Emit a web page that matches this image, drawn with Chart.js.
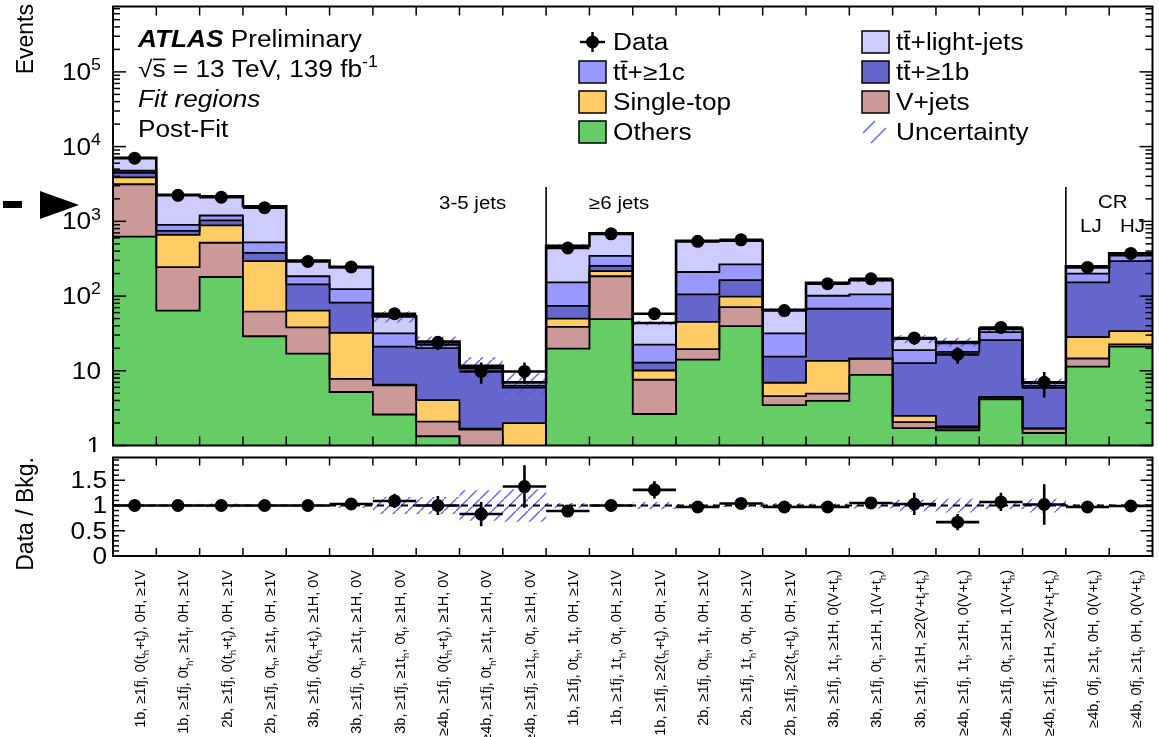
<!DOCTYPE html>
<html>
<head>
<meta charset="utf-8">
<title>Fit regions - post-fit</title>
<script src="https://cdn.jsdelivr.net/npm/chart.js@4.4.1/dist/chart.umd.min.js"></script>
<style>
    html, body { margin: 0; padding: 0; background: #fff; }
    #wrap { position: relative; width: 1159px; height: 737px; overflow: hidden; }
    #mainCanvas { position: absolute; left: 0; top: 0; }
    #ratioCanvas { position: absolute; left: 0; top: 451px; }
</style>
</head>
<body>
<div id="wrap">
    <canvas id="mainCanvas" width="1159" height="452"></canvas>
    <canvas id="ratioCanvas" width="1159" height="286"></canvas>
</div>
<script>
// Regiones del ajuste (24 bins); "_h" / "_l" marcan subíndices
const REGIONS = [
    '1b, ≥1fj, 0(t_h+t_l), 0H, ≥1V',
    '1b, ≥1fj, 0t_h, ≥1t_l, 0H, ≥1V',
    '2b, ≥1fj, 0(t_h+t_l), 0H, ≥1V',
    '2b, ≥1fj, 0t_h, ≥1t_l, 0H, ≥1V',
    '3b, ≥1fj, 0(t_h+t_l), ≥1H, 0V',
    '3b, ≥1fj, 0t_h, ≥1t_l, ≥1H, 0V',
    '3b, ≥1fj, ≥1t_h, 0t_l, ≥1H, 0V',
    '≥4b, ≥1fj, 0(t_h+t_l), ≥1H, 0V',
    '≥4b, ≥1fj, 0t_h, ≥1t_l, ≥1H, 0V',
    '≥4b, ≥1fj, ≥1t_h, 0t_l, ≥1H, 0V',
    '1b, ≥1fj, 0t_h, 1t_l, 0H, ≥1V',
    '1b, ≥1fj, 1t_h, 0t_l, 0H, ≥1V',
    '1b, ≥1fj, ≥2(t_h+t_l), 0H, ≥1V',
    '2b, ≥1fj, 0t_h, 1t_l, 0H, ≥1V',
    '2b, ≥1fj, 1t_h, 0t_l, 0H, ≥1V',
    '2b, ≥1fj, ≥2(t_h+t_l), 0H, ≥1V',
    '3b, ≥1fj, 1t_l, ≥1H, 0(V+t_h)',
    '3b, ≥1fj, 0t_l, ≥1H, 1(V+t_h)',
    '3b, ≥1fj, ≥1H, ≥2(V+t_l+t_h)',
    '≥4b, ≥1fj, 1t_l, ≥1H, 0(V+t_h)',
    '≥4b, ≥1fj, 0t_l, ≥1H, 1(V+t_h)',
    '≥4b, ≥1fj, ≥1H, ≥2(V+t_l+t_h)',
    '≥4b, 0fj, ≥1t_l, 0H, 0(V+t_h)',
    '≥4b, 0fj, ≥1t_l, 0H, 0(V+t_h)'
];

// Procesos apilados (de abajo hacia arriba), eventos por bin
const OTHERS    = [626, 64, 180, 29, 17, 5.2, 2.6, 1.33, 0.8, 0.5, 19.8, 49, 2.64, 14.1, 39.5, 3.47, 3.96, 8.8, 1.71, 1.6, 4.13, 1.47, 11.4, 21];
const VJETS     = [2507, 180, 337, 33, 21, 2.6, 3.8, 0.76, 0.83, 0.3, 18.8, 135, 4.95, 5.4, 31.5, 1.1, 1.0, 5.6, 0.34, 0.12, 0.22, 0.21, 3.2, 1.6];
const SINGLETOP = [742, 416, 366, 231, 26, 24.4, 0.1, 1.95, 0.05, 1.19, 11.3, 32, 2.5, 25.5, 27, 2.35, 8.64, 0.2, 0.44, 0.08, 0.12, 0.02, 13.7, 11.3];
const TT_B      = [595, 85, 145, 85, 79, 49.6, 14.5, 16, 9.1, 3.96, 24.1, 38, 2.8, 60, 65, 8.5, 54, 53, 10.2, 16.1, 21.3, 4.2, 123.7, 259];
const TT_C      = [280, 149, 169, 144, 41, 42, 10.6, 2.2, 0.3, 0.35, 78, 90, 9.5, 105, 102, 16.2, 33.4, 37.4, 6.2, 5.4, 7.1, 0.4, 47, 56];
const TT_LIGHT  = [2350, 1371, 960, 1070, 115, 120, 21.9, 2.3, 0.6, 0.7, 318, 349, 21.2, 340, 285, 34, 49, 58, 7.9, 1.0, 3.5, 0.6, 51, 25];

// Datos observados y su error
const DATA     = [7000, 2230, 2100, 1520, 290, 245, 58, 24, 9.8, 9.8, 440, 680, 58, 540, 565, 64, 146, 170, 27.5, 16.5, 38, 7, 242, 372];
const DATA_ERR = [85, 47, 46, 39, 17, 16, 7.6, 5, 3.1, 3.1, 21, 26, 7.6, 23, 24, 8, 12, 13, 5.2, 4.1, 6.2, 2.6, 15.6, 19.3];

// Incertidumbre relativa del fondo total
const UNC = [0.02, 0.02, 0.04, 0.02, 0.02, 0.05, 0.17, 0.17, 0.3, 0.32, 0.05, 0.03, 0.07, 0.03, 0.03, 0.05, 0.04, 0.06, 0.12, 0.14, 0.07, 0.14, 0.03, 0.03];

// Panel inferior: Data / Bkg.
const RATIO     = [1.0, 1.0, 1.0, 1.0, 1.0, 1.03, 1.09, 1.0, 0.83, 1.375, 0.89, 1.0, 1.31, 0.97, 1.04, 0.97, 0.97, 1.05, 1.03, 0.67, 1.07, 1.02, 0.97, 0.99];
const RATIO_ERR = [0.015, 0.025, 0.025, 0.03, 0.06, 0.07, 0.14, 0.19, 0.24, 0.42, 0.05, 0.04, 0.17, 0.05, 0.05, 0.09, 0.08, 0.08, 0.22, 0.16, 0.18, 0.4, 0.06, 0.05];

// Etiquetas de los ejes
const Y_TICKS = [1, 10, 100, 1000, 10000, 100000];
const Y_TICK_LABELS = ['1', '10', '10^2', '10^3', '10^4', '10^5'];
const RATIO_TICKS = [0, 0.5, 1, 1.5];
const RATIO_TICK_LABELS = ['0', '0.5', '1', '1.5'];

const FONT = '"Liberation Sans", Arial, Helvetica, sans-serif';
const SX = 1.14; // ensanchado horizontal del texto
const N = REGIONS.length;

const COLORS = {
    others: '#66cc66',
    vjets: '#cc9999',
    singletop: '#ffcc66',
    ttb: '#6666cc',
    ttc: '#9999ff',
    ttlight: '#ccccff',
    hatch: 'rgba(80, 80, 255, 0.9)'
};

const PROCS = [
    { values: OTHERS, color: COLORS.others },
    { values: VJETS, color: COLORS.vjets },
    { values: SINGLETOP, color: COLORS.singletop },
    { values: TT_B, color: COLORS.ttb },
    { values: TT_C, color: COLORS.ttc },
    { values: TT_LIGHT, color: COLORS.ttlight }
];

/* ---------- utilidades ---------- */

function cumulative(lists) {
    const out = [];
    let run = new Array(N).fill(0);
    lists.forEach(arr => {
        run = run.map((v, i) => v + arr[i]);
        out.push(run.slice());
    });
    return out;
}

// puntos de un histograma escalonado: borde izquierdo de cada bin + borde final
function stepPoints(vals) {
    const pts = vals.map((v, i) => ({ x: i, y: v }));
    pts.push({ x: vals.length, y: vals[vals.length - 1] });
    return pts;
}

function makeHatch(canvas) {
    const tile = document.createElement('canvas');
    tile.width = tile.height = 12;
    const g = tile.getContext('2d');
    g.strokeStyle = COLORS.hatch;
    g.lineWidth = 1.4;
    g.beginPath();
    g.moveTo(-1, 13); g.lineTo(13, -1);
    g.stroke();
    return canvas.getContext('2d').createPattern(tile, 'repeat');
}

// texto con sub/superíndices: "t_h", "10^5"
function parseRich(str, base) {
    const segs = [];
    let buf = '';
    for (let i = 0; i < str.length; i++) {
        const c = str[i];
        if ((c === '_' || c === '^') && i + 1 < str.length) {
            if (buf) segs.push(Object.assign({ t: buf }, base));
            buf = '';
            segs.push(Object.assign({ t: str[i + 1], sub: c === '_', sup: c === '^' }, base));
            i++;
        } else {
            buf += c;
        }
    }
    if (buf) segs.push(Object.assign({ t: buf }, base));
    return segs;
}

function fontStr(seg, size) {
    return (seg.it ? 'italic ' : '') + (seg.b ? 'bold ' : '') + size + 'px ' + FONT;
}

function segSize(seg, size) {
    return (seg.sub || seg.sup) ? size * 0.68 : size;
}

function richWidth(ctx, segs, size) {
    let w = 0;
    segs.forEach(s => {
        ctx.font = fontStr(s, segSize(s, size));
        w += ctx.measureText(s.t).width;
    });
    return w;
}

function drawRich(ctx, segs, x, y, size, align, sx) {
    sx = sx || 1;
    const w = richWidth(ctx, segs, size);
    const x0 = align === 'right' ? x - w * sx : (align === 'center' ? x - w * sx / 2 : x);
    ctx.save();
    ctx.translate(x0, y);
    ctx.scale(sx, 1);
    ctx.fillStyle = '#000';
    ctx.textAlign = 'left';
    ctx.textBaseline = 'alphabetic';
    let cx = 0;
    segs.forEach(s => {
        const fs = segSize(s, size);
        const dy = s.sub ? size * 0.3 : (s.sup ? -size * 0.42 : 0);
        ctx.font = fontStr(s, fs);
        ctx.fillText(s.t, cx, dy);
        const sw = ctx.measureText(s.t).width;
        if (s.bar) {
            ctx.fillRect(cx + sw * 0.05, dy - size * (s.barY || 0.84), sw * 0.95, size * 0.07);
        }
        cx += sw;
    });
    ctx.restore();
    return w * sx;
}

// texto girado 90°, terminando en yEnd (alineado arriba)
function drawRotated(ctx, segs, cx, yEnd, size) {
    ctx.save();
    ctx.translate(cx, yEnd);
    ctx.rotate(-Math.PI / 2);
    drawRich(ctx, segs, 0, size * 0.36, size, 'right', 1);
    ctx.restore();
}

function line(ctx, x1, y1, x2, y2) {
    ctx.beginPath();
    ctx.moveTo(x1, y1);
    ctx.lineTo(x2, y2);
    ctx.stroke();
}

function drawBinTicks(ctx, chart, len) {
    const a = chart.chartArea;
    const xs = chart.scales.x;
    ctx.lineWidth = 1.5;
    for (let i = 1; i < N; i++) {
        const px = xs.getPixelForValue(i);
        line(ctx, px, a.bottom, px, a.bottom - len);
        line(ctx, px, a.top, px, a.top + len);
    }
}

function drawFrame(ctx, a) {
    ctx.strokeStyle = '#000';
    ctx.lineWidth = 2;
    ctx.strokeRect(a.left, a.top, a.right - a.left, a.bottom - a.top);
}

// barras de error y anchura del bin para los puntos de datos
function drawErrorBars(chart, values, errors) {
    const ctx = chart.ctx;
    const xs = chart.scales.x;
    const ys = chart.scales.y;
    ctx.save();
    ctx.beginPath();
    ctx.rect(chart.chartArea.left, chart.chartArea.top, chart.chartArea.right - chart.chartArea.left, chart.chartArea.bottom - chart.chartArea.top);
    ctx.clip();
    ctx.strokeStyle = '#000';
    ctx.lineWidth = 2.6;
    values.forEach((v, i) => {
        const py = ys.getPixelForValue(v);
        line(ctx, xs.getPixelForValue(i), py, xs.getPixelForValue(i + 1), py);
        const px = xs.getPixelForValue(i + 0.5);
        line(ctx, px, ys.getPixelForValue(v + errors[i]), px, ys.getPixelForValue(Math.max(v - errors[i], 1e-3)));
    });
    ctx.restore();
}

/* ---------- panel principal ---------- */

const cum = cumulative(PROCS.map(p => p.values));
const total = cum[cum.length - 1];

const mainCanvas = document.getElementById('mainCanvas');
const mainHatch = makeHatch(mainCanvas);

const mainDatasets = [];
PROCS.forEach((p, k) => {
    mainDatasets.push({
        data: stepPoints(cum[k]),
        stepped: true,
        fill: k === 0 ? 'start' : '-1',
        backgroundColor: p.color,
        borderWidth: 0,
        pointRadius: 0,
        order: 4
    });
});
mainDatasets.push({
    data: stepPoints(total.map((t, i) => t * (1 - UNC[i]))),
    stepped: true, fill: false, borderWidth: 0, pointRadius: 0, order: 3
});
mainDatasets.push({
    data: stepPoints(total.map((t, i) => t * (1 + UNC[i]))),
    stepped: true, fill: '-1', backgroundColor: mainHatch, borderWidth: 0, pointRadius: 0, order: 3
});
cum.forEach((c, k) => {
    mainDatasets.push({
        data: stepPoints(c),
        stepped: true,
        fill: false,
        borderColor: '#000',
        borderWidth: k === cum.length - 1 ? 2.6 : 1.8,
        pointRadius: 0,
        order: 2
    });
});
mainDatasets.push({
    data: DATA.map((v, i) => ({ x: i + 0.5, y: v })),
    showLine: false,
    pointRadius: 6.5,
    pointBackgroundColor: '#000',
    pointBorderColor: '#000',
    pointBorderWidth: 0,
    order: 1
});

const LEGEND = [
    { col: 0, row: 0, type: 'data', segs: [{ t: 'Data' }] },
    { col: 0, row: 1, type: 'box', color: COLORS.ttc, segs: [{ t: 't' }, { t: 't', bar: true }, { t: '+≥1c' }] },
    { col: 0, row: 2, type: 'box', color: COLORS.singletop, segs: [{ t: 'Single-top' }] },
    { col: 0, row: 3, type: 'box', color: COLORS.others, segs: [{ t: 'Others' }] },
    { col: 1, row: 0, type: 'box', color: COLORS.ttlight, segs: [{ t: 't' }, { t: 't', bar: true }, { t: '+light-jets' }] },
    { col: 1, row: 1, type: 'box', color: COLORS.ttb, segs: [{ t: 't' }, { t: 't', bar: true }, { t: '+≥1b' }] },
    { col: 1, row: 2, type: 'box', color: COLORS.vjets, segs: [{ t: 'V+jets' }] },
    { col: 1, row: 3, type: 'hatch', segs: [{ t: 'Uncertainty' }] }
];

const mainDecor = {
    id: 'mainDecor',
    afterDatasetsDraw(chart) {
        drawErrorBars(chart, DATA, DATA_ERR);
    },
    afterDraw(chart) {
        const ctx = chart.ctx;
        const a = chart.chartArea;
        const xs = chart.scales.x;
        const ys = chart.scales.y;
        ctx.save();
        ctx.strokeStyle = '#000';
        ctx.fillStyle = '#000';

        // separadores de regiones
        ctx.lineWidth = 1.6;
        [10, 22].forEach(e => {
            const px = xs.getPixelForValue(e);
            line(ctx, px, 187, px, a.bottom);
        });

        drawFrame(ctx, a);
        drawBinTicks(ctx, chart, 9);

        // marcas del eje logarítmico
        ctx.lineWidth = 1.5;
        for (let d = 0; d < 6; d++) {
            for (let m = 1; m <= 9; m++) {
                const v = m * Math.pow(10, d);
                if (v > ys.max) break;
                const py = ys.getPixelForValue(v);
                const len = m === 1 ? 13 : 7;
                line(ctx, a.left, py, a.left + len, py);
                line(ctx, a.right, py, a.right - len, py);
            }
        }
        Y_TICKS.forEach((v, i) => {
            const py = ys.getPixelForValue(v);
            drawRich(ctx, parseRich(Y_TICK_LABELS[i]), 101, py + 8, 23, 'right', SX);
        });
        drawRotated(ctx, [{ t: 'Events' }], 25, 4, 23);

        // rótulo ATLAS
        drawRich(ctx, [{ t: 'ATLAS', b: true, it: true }, { t: ' Preliminary' }], 138, 47, 23, 'left', SX);
        drawRich(ctx, [{ t: '√' }, { t: 's', bar: true, barY: 0.8 }, { t: ' = 13 TeV, 139 fb' }, { t: '-1', sup: true }], 138, 77, 23, 'left', SX);
        drawRich(ctx, [{ t: 'Fit regions', it: true }], 138, 107, 23, 'left', SX);
        drawRich(ctx, [{ t: 'Post-Fit' }], 138, 137, 23, 'left', SX);

        // leyenda
        LEGEND.forEach(item => {
            const bx = item.col === 0 ? 579 : 862;
            const cy = 42 + item.row * 30;
            if (item.type === 'data') {
                ctx.lineWidth = 2.4;
                line(ctx, bx + 1, cy, bx + 26, cy);
                line(ctx, bx + 13.5, cy - 10, bx + 13.5, cy + 10);
                ctx.beginPath();
                ctx.arc(bx + 13.5, cy, 6.5, 0, Math.PI * 2);
                ctx.fill();
            } else if (item.type === 'box') {
                ctx.fillStyle = item.color;
                ctx.fillRect(bx, cy - 11, 27, 22);
                ctx.lineWidth = 1.5;
                ctx.strokeRect(bx, cy - 11, 27, 22);
                ctx.fillStyle = '#000';
            } else {
                ctx.strokeStyle = COLORS.hatch;
                ctx.lineWidth = 1.4;
                line(ctx, bx + 1, cy + 1, bx + 13, cy - 11);
                line(ctx, bx + 9, cy + 11, bx + 24, cy - 4);
                ctx.strokeStyle = '#000';
            }
            drawRich(ctx, item.segs, bx + 34, cy + 8, 23, 'left', SX);
        });

        // regiones
        drawRich(ctx, [{ t: '3-5 jets' }], 439, 209, 18, 'left', SX);
        drawRich(ctx, [{ t: '≥6 jets' }], 589, 209, 18, 'left', SX);
        drawRich(ctx, [{ t: 'CR' }], 1098, 208, 18, 'left', SX);
        drawRich(ctx, [{ t: 'LJ' }], 1080, 232, 18, 'left', SX);
        drawRich(ctx, [{ t: 'HJ' }], 1120, 232, 18, 'left', SX);

        // marca al margen izquierdo
        ctx.fillRect(3, 201, 19, 7);
        ctx.beginPath();
        ctx.moveTo(40, 191);
        ctx.lineTo(79, 205);
        ctx.lineTo(40, 219);
        ctx.closePath();
        ctx.fill();

        ctx.restore();
    }
};

new Chart(mainCanvas, {
    type: 'line',
    data: { datasets: mainDatasets },
    options: {
        responsive: false,
        animation: false,
        devicePixelRatio: 1,
        events: [],
        layout: { padding: { left: 113, top: 6, right: 4, bottom: 1 } },
        elements: { line: { tension: 0 } },
        plugins: { legend: { display: false }, tooltip: { enabled: false } },
        scales: {
            x: { type: 'linear', min: 0, max: N, display: false },
            y: { type: 'logarithmic', min: 1, max: 7.5e5, display: false }
        }
    },
    plugins: [mainDecor]
});

/* ---------- panel de cociente ---------- */

const ratioCanvas = document.getElementById('ratioCanvas');
const ratioHatch = makeHatch(ratioCanvas);

const ratioDecor = {
    id: 'ratioDecor',
    afterDatasetsDraw(chart) {
        drawErrorBars(chart, RATIO, RATIO_ERR);
    },
    afterDraw(chart) {
        const ctx = chart.ctx;
        const a = chart.chartArea;
        const xs = chart.scales.x;
        const ys = chart.scales.y;
        ctx.save();
        ctx.strokeStyle = '#000';
        drawFrame(ctx, a);
        drawBinTicks(ctx, chart, 8);

        ctx.lineWidth = 1.5;
        for (let k = 0; k <= 19; k++) {
            const v = k / 10;
            if (v > ys.max) break;
            const py = ys.getPixelForValue(v);
            const len = k % 5 === 0 ? 12 : 6;
            line(ctx, a.left, py, a.left + len, py);
            line(ctx, a.right, py, a.right - len, py);
        }
        RATIO_TICKS.forEach((v, i) => {
            drawRich(ctx, [{ t: RATIO_TICK_LABELS[i] }], 107, ys.getPixelForValue(v) + 8, 23, 'right', SX);
        });
        drawRotated(ctx, [{ t: 'Data / Bkg.' }], 25, 6, 23);

        // etiquetas de las regiones
        REGIONS.forEach((lab, i) => {
            drawRotated(ctx, parseRich(lab), xs.getPixelForValue(i + 0.5) + 5, 119, 14.5);
        });
        ctx.restore();
    }
};

new Chart(ratioCanvas, {
    type: 'line',
    data: {
        datasets: [
            {
                data: stepPoints(UNC.map(u => 1 - u)),
                stepped: true, fill: false, borderWidth: 0, pointRadius: 0, order: 3
            },
            {
                data: stepPoints(UNC.map(u => 1 + u)),
                stepped: true, fill: '-1', backgroundColor: ratioHatch, borderWidth: 0, pointRadius: 0, order: 3
            },
            {
                data: [{ x: 0, y: 1 }, { x: N, y: 1 }],
                borderColor: '#000', borderWidth: 2, borderDash: [7, 5], pointRadius: 0, fill: false, order: 2
            },
            {
                data: RATIO.map((v, i) => ({ x: i + 0.5, y: v })),
                showLine: false,
                pointRadius: 6.5,
                pointBackgroundColor: '#000',
                pointBorderColor: '#000',
                pointBorderWidth: 0,
                order: 1
            }
        ]
    },
    options: {
        responsive: false,
        animation: false,
        devicePixelRatio: 1,
        events: [],
        layout: { padding: { left: 113, top: 1, right: 4, bottom: 181 } },
        elements: { line: { tension: 0 } },
        plugins: { legend: { display: false }, tooltip: { enabled: false } },
        scales: {
            x: { type: 'linear', min: 0, max: N, display: false },
            y: { type: 'linear', min: 0, max: 1.95, display: false }
        }
    },
    plugins: [ratioDecor]
});
</script>
</body>
</html>
